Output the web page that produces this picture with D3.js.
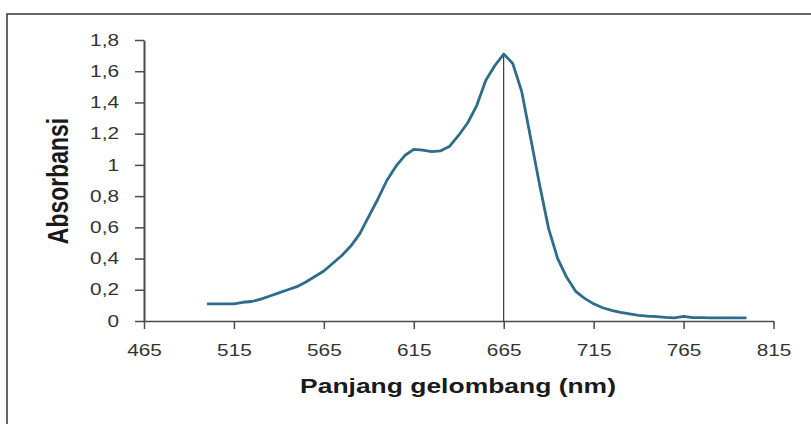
<!DOCTYPE html>
<meta charset="utf-8">
<style>
body { margin: 0; background: #fff; }
.axis text { font: 16px "Liberation Sans", Arial, sans-serif; fill: #333; }
.axis path, .axis line { stroke: #4a4a4a; }
.title { font-family: "Liberation Sans", Arial, sans-serif; font-weight: bold; fill: #1a1a1a; }
</style>
<body>
<script src="https://d3js.org/d3.v7.min.js"></script>
<script>

// spectrum (nm, absorbance)
const wavelength = [500, 505, 510, 515, 520, 525, 530, 535, 540, 545,
  550, 555, 560, 565, 570, 575, 580, 585, 590, 595,
  600, 605, 610, 615, 620, 625, 630, 635, 640, 645,
  650, 655, 660, 665, 670, 675, 680, 685, 690, 695,
  700, 705, 710, 715, 720, 725, 730, 735, 740, 745,
  750, 755, 760, 765, 770, 775, 780, 785, 790, 795, 800];
const absorbance = [0.11, 0.11, 0.11, 0.11, 0.12, 0.125, 0.14, 0.16, 0.18, 0.20,
  0.22, 0.25, 0.285, 0.32, 0.37, 0.42, 0.48, 0.56, 0.67, 0.78,
  0.90, 0.99, 1.06, 1.10, 1.095, 1.085, 1.09, 1.12, 1.19, 1.27,
  1.38, 1.54, 1.635, 1.71, 1.65, 1.47, 1.17, 0.87, 0.59, 0.40,
  0.28, 0.19, 0.145, 0.11, 0.085, 0.068, 0.055, 0.045, 0.036, 0.031,
  0.028, 0.023, 0.02, 0.03, 0.022, 0.021, 0.02, 0.02, 0.02, 0.02, 0.02];

const xTicks = [465, 515, 565, 615, 665, 715, 765, 815];
const yTicks = [0, 0.2, 0.4, 0.6, 0.8, 1, 1.2, 1.4, 1.6, 1.8];
const yTickLabels = ["0", "0,2", "0,4", "0,6", "0,8", "1", "1,2", "1,4", "1,6", "1,8"];
const peakWavelength = 665;
const peakAbsorbance = 1.71;

const width = 811, height = 424;
const stretch = 1.3;   // the source picture is widened sideways, so is the text

const x = d3.scaleLinear().domain([465, 815]).range([144, 773.5]);
const y = d3.scaleLinear().domain([0, 1.8]).range([321, 40]);

const svg = d3.select("body").append("svg")
    .attr("width", width)
    .attr("height", height);

// frame round the chart (only top and left show)
svg.append("path")
    .attr("d", "M7," + height + "V14H" + width)
    .attr("fill", "none")
    .attr("stroke", "#333")
    .attr("stroke-width", 1.5);

// x axis
const xAxis = svg.append("g")
    .attr("class", "axis")
    .attr("transform", "translate(0," + y(0) + ")")
    .call(d3.axisBottom(x).tickValues(xTicks).tickFormat(d3.format("d"))
      .tickSize(8).tickSizeOuter(0).tickPadding(16));
xAxis.select(".domain").attr("stroke-width", 1.5);
xAxis.selectAll(".tick line").attr("stroke-width", 1.5);
xAxis.selectAll("text").attr("transform", "scale(" + stretch + ",1)");

// y axis
const yAxis = svg.append("g")
    .attr("class", "axis")
    .attr("transform", "translate(" + x(465) + ",0)")
    .call(d3.axisLeft(y).tickValues(yTicks).tickFormat((d, i) => yTickLabels[i])
      .tickSize(9).tickSizeOuter(0).tickPadding(16));
yAxis.select(".domain").attr("stroke-width", 2);
yAxis.selectAll(".tick line").attr("stroke-width", 1.5);
yAxis.selectAll("text")
    .attr("x", -25 / stretch)
    .attr("transform", "scale(" + stretch + ",1)");

// drop line at the peak
svg.append("line")
    .attr("x1", x(peakWavelength)).attr("x2", x(peakWavelength))
    .attr("y1", y(0)).attr("y2", y(peakAbsorbance))
    .attr("stroke", "#111")
    .attr("stroke-width", 1);

// the spectrum
const line = d3.line()
    .x((d, i) => x(wavelength[i]))
    .y(d => y(d));
svg.append("path")
    .datum(absorbance)
    .attr("d", line)
    .attr("fill", "none")
    .attr("stroke", "#2d6d8b")
    .attr("stroke-width", 2.8)
    .attr("stroke-linejoin", "round");

// axis titles
svg.append("text")
    .attr("class", "title")
    .attr("transform", "translate(458,393) scale(" + stretch + ",1)")
    .attr("text-anchor", "middle")
    .attr("font-size", 20)
    .attr("textLength", 243)
    .attr("lengthAdjust", "spacingAndGlyphs")
    .text("Panjang gelombang (nm)");

svg.append("text")
    .attr("class", "title")
    .attr("transform", "translate(68,181) scale(" + stretch + ",1) rotate(-90)")
    .attr("text-anchor", "middle")
    .attr("font-size", 23)
    .text("Absorbansi");

</script>
</body>
